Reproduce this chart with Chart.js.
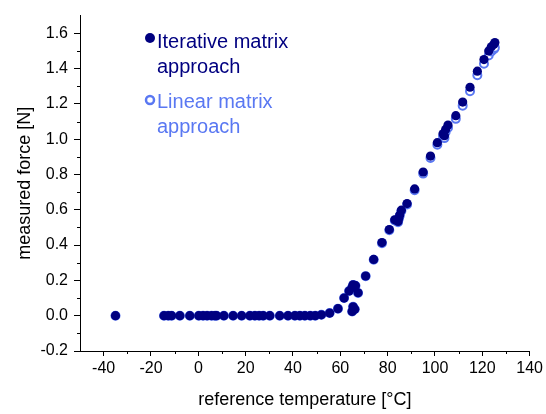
<!DOCTYPE html>
<html>
<head>
<meta charset="utf-8">
<script src="https://cdn.jsdelivr.net/npm/chart.js@4.4.1/dist/chart.umd.min.js"></script>
<style>
html,body{margin:0;padding:0;background:#fff;}
canvas{display:block;}
</style>
</head>
<body>
<canvas id="c" width="546" height="414"></canvas>
<script>
// ---- data ----
const temps = [-35,-14.5,-12.7,-11.3,-7.8,-3.6,0.2,2.0,3.7,5.6,7.0,7.7,10.8,14.7,18.3,21.8,23.9,25.7,27.4,30.2,34.4,37.9,40.8,42.9,45.0,47.3,49.4,52.0,55.5,59.0,61.6,63.7,65.0,65.4,66.4,67.5,65.4,65.0,66.1,70.7,74.1,77.6,80.7,83.0,84.4,84.7,85.1,85.8,88.2,91.4,95.0,98.1,101.0,103.4,104.0,104.5,105.5,108.8,111.7,114.8,117.9,120.7,122.7,123.8,124.9,125.3];
const iterForce = [0,0,0,0,0,0,0,0,0,0,0,0,0,0,0,0,0,0,0,0,0,0,0,0,0,0,0,0.005,0.015,0.04,0.10,0.14,0.16,0.175,0.17,0.13,0.05,0.024,0.037,0.225,0.319,0.414,0.488,0.543,0.534,0.552,0.571,0.598,0.635,0.718,0.814,0.904,0.98,1.03,1.02,1.055,1.08,1.133,1.21,1.294,1.385,1.451,1.50,1.523,1.538,1.547];
const linearForce = [0,0,0,0,0,0,0,0,0,0,0,0,0,0,0,0,0,0,0,0,0,0,0,0,0,0,0,0.005,0.015,0.04,0.10,0.14,0.16,0.174,0.169,0.129,0.05,0.024,0.037,0.224,0.317,0.411,0.484,0.539,0.530,0.548,0.566,0.593,0.630,0.711,0.805,0.893,0.968,1.016,1.006,1.040,1.065,1.115,1.190,1.272,1.362,1.427,1.474,1.497,1.510,1.518];
const xTickValues = [-40,-20,0,20,40,60,80,100,120,140];
const yTickValues = [-0.2,0,0.2,0.4,0.6,0.8,1.0,1.2,1.4,1.6];
const xMinorTicks = [-30,-10,10,30,50,70,90,110,130];
const yMinorTicks = [-0.1,0.1,0.3,0.5,0.7,0.9,1.1,1.3,1.5];
const seriesNames = [["Iterative matrix","approach"],["Linear matrix","approach"]];
const xTitle = "reference temperature [°C]";
const yTitle = "measured force [N]";

const DARK = '#000080';
const LIGHT = '#5a78f2';
const FONT = "'Liberation Sans', Arial, sans-serif";

const iterPts = temps.map((t,i)=>({x:t,y:iterForce[i]}));
const linPts = temps.map((t,i)=>({x:t,y:linearForce[i]}));

const minorTicks = {
  id:'minorTicks',
  afterDraw(chart){
    const ctx = chart.ctx, xs = chart.scales.x, ys = chart.scales.y;
    ctx.save();
    ctx.strokeStyle = '#000'; ctx.lineWidth = 1;
    ctx.beginPath();
    xMinorTicks.forEach(v=>{
      const px = Math.round(xs.getPixelForValue(v))+0.5;
      ctx.moveTo(px, xs.top); ctx.lineTo(px, xs.top+3);
    });
    yMinorTicks.forEach(v=>{
      const py = Math.round(ys.getPixelForValue(v))+0.5;
      ctx.moveTo(ys.right, py); ctx.lineTo(ys.right-3, py);
    });
    ctx.stroke();
    ctx.restore();
  }
};

const customLegend = {
  id:'customLegend',
  afterDraw(chart){
    const ctx = chart.ctx;
    ctx.save();
    ctx.font = "20px " + FONT;
    ctx.textBaseline = 'alphabetic';
    ctx.textAlign = 'left';
    // iterative
    ctx.fillStyle = DARK;
    ctx.beginPath(); ctx.arc(150, 38, 5, 0, Math.PI*2); ctx.fill();
    ctx.fillText(seriesNames[0][0], 157, 47.5);
    ctx.fillText(seriesNames[0][1], 157, 72.5);
    // linear
    ctx.strokeStyle = LIGHT; ctx.lineWidth = 2.5;
    ctx.beginPath(); ctx.arc(150, 100, 4, 0, Math.PI*2); ctx.stroke();
    ctx.fillStyle = LIGHT;
    ctx.fillText(seriesNames[1][0], 157, 107.5);
    ctx.fillText(seriesNames[1][1], 157, 132.5);
    ctx.restore();
  }
};

new Chart(document.getElementById('c'), {
  type:'scatter',
  data:{datasets:[
    {label:seriesNames[0].join(' '), data:iterPts, pointRadius:4.6, pointBackgroundColor:DARK, pointBorderWidth:0, pointBorderColor:DARK},
    {label:seriesNames[1].join(' '), data:linPts, pointRadius:4, pointBackgroundColor:'#fff', pointBorderWidth:2, pointBorderColor:LIGHT}
  ]},
  options:{
    responsive:false, animation:false, devicePixelRatio:1,
    layout:{padding:{left:0,right:16,top:7,bottom:0}},
    plugins:{legend:{display:false}, tooltip:{enabled:false}},
    scales:{
      x:{
        type:'linear', min:-50, max:140,
        afterBuildTicks(s){ s.ticks = xTickValues.map(v=>({value:v})); },
        afterFit(s){ s.height = 63; },
        ticks:{color:'#000', font:{family:FONT,size:16}, padding:3, maxRotation:0, autoSkip:false},
        grid:{drawOnChartArea:false, drawTicks:true, tickLength:5, tickColor:'#000', color:'#000'},
        border:{display:true, color:'#000', width:1},
        title:{display:true, text:xTitle, color:'#000', font:{family:FONT,size:18}, padding:{top:0,bottom:3}}
      },
      y:{
        type:'linear', min:-0.2, max:1.7,
        afterBuildTicks(s){ s.ticks = yTickValues.map(v=>({value:v})); },
        afterFit(s){ s.width = 80; },
        ticks:{color:'#000', font:{family:FONT,size:16}, padding:6, autoSkip:false, callback:v=>v.toFixed(1)},
        grid:{drawOnChartArea:false, drawTicks:true, tickLength:6, tickColor:'#000', color:'#000'},
        border:{display:true, color:'#000', width:1},
        title:{display:true, text:yTitle, color:'#000', font:{family:FONT,size:18}, padding:{top:14,bottom:0}}
      }
    }
  },
  plugins:[minorTicks, customLegend]
});
</script>
</body>
</html>
